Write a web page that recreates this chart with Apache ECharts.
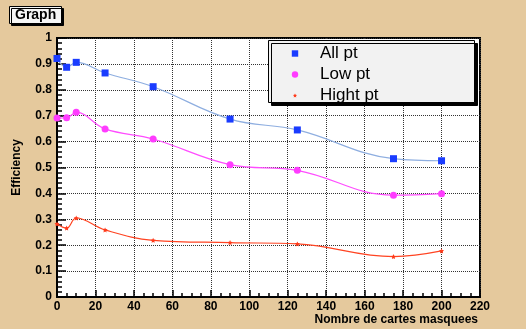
<!DOCTYPE html>
<html>
<head>
<meta charset="utf-8">
<script src="https://cdn.jsdelivr.net/npm/echarts@6/dist/echarts.min.js"></script>
<style>
  html, body { margin: 0; padding: 0; background: #e5c99d; }
  #chart { width: 526px; height: 329px; }
</style>
</head>
<body>
<div id="chart"></div>
<script>
// number of masked cards
const xValues = [0, 5, 10, 25, 50, 90, 125, 175, 200]
// efficiencies
const allPt = [0.921, 0.887, 0.906, 0.865, 0.812, 0.687, 0.645, 0.534, 0.526]
const lowPt = [0.691, 0.692, 0.713, 0.649, 0.610, 0.511, 0.489, 0.393, 0.399]
const highPt = [0.282, 0.266, 0.305, 0.259, 0.219, 0.210, 0.205, 0.156, 0.178]
const seriesNames = ['All pt', 'Low pt', 'Hight pt']

const star = 'path://M0,-10L2.9,-4L9.5,-3.1L4.8,1.5L5.9,8.1L0,5L-5.9,8.1L-4.8,1.5L-9.5,-3.1L-2.9,-4Z'
const font = '"Liberation Sans", Arial, sans-serif'

const pairs = (ys) => xValues.map((x, i) => [x, ys[i]])

const chart = echarts.init(document.getElementById('chart'))

const legendItem = (name, top, h) => ({
  data: [name],
  orient: 'vertical',
  left: 274,
  top: top,
  itemWidth: 40,
  itemHeight: h,
  padding: 0,
  lineStyle: { opacity: 0 },
  textStyle: { fontFamily: font, fontSize: 17, color: '#000' },
  selectedMode: false,
  z: 110,
})

const option = {
  backgroundColor: '#e5c99d',
  animation: false,
  title: {
    text: 'Graph',
    left: 9,
    top: 6,
    padding: [2, 6, 2, 6],
    backgroundColor: '#f6f6f6',
    borderColor: '#000',
    borderWidth: 1,
    shadowColor: '#000',
    shadowOffsetX: 2,
    shadowOffsetY: 2,
    textStyle: { fontFamily: font, fontSize: 14, fontWeight: 'bold', color: '#000' },
  },
  graphic: [{
    type: 'rect',
    left: 268,
    top: 40,
    shape: { width: 206, height: 62 },
    style: { fill: '#f2f2f2', stroke: '#000', lineWidth: 1, shadowColor: '#000', shadowOffsetX: 3, shadowOffsetY: 3 },
    z: 100,
  }],
  legend: [
    legendItem(seriesNames[0], 45, 8),
    legendItem(seriesNames[1], 66, 8),
    legendItem(seriesNames[2], 87, 5),
  ],
  grid: {
    left: 57,
    right: 46,
    top: 38,
    bottom: 32,
    show: true,
    backgroundColor: '#fff',
    borderColor: '#000',
    borderWidth: 2,
  },
  xAxis: {
    type: 'value',
    min: 0,
    max: 220,
    interval: 20,
    name: 'Nombre de cartes masquees',
    nameLocation: 'end',
    nameGap: -2,
    nameTextStyle: {
      fontFamily: font, fontSize: 12, fontWeight: 'bold', color: '#000',
      align: 'right', verticalAlign: 'top', padding: [17, 0, 0, 0],
    },
    axisLine: { lineStyle: { color: '#000', width: 2 } },
    axisTick: { show: true, inside: true, length: 7, lineStyle: { color: '#000', width: 1.5 } },
    minorTick: { show: true, splitNumber: 4, length: 4, lineStyle: { color: '#000', width: 1.5 } },
    axisLabel: { fontFamily: font, fontSize: 12, fontWeight: 'bold', color: '#000', margin: 4, showMaxLabel: true },
    splitLine: { show: true, lineStyle: { color: '#333', type: 'dotted', width: 1 } },
  },
  yAxis: {
    type: 'value',
    min: 0,
    max: 1,
    interval: 0.1,
    name: 'Efficiency',
    nameLocation: 'middle',
    nameGap: 34,
    nameTextStyle: { fontFamily: font, fontSize: 12, fontWeight: 'bold', color: '#000' },
    axisLine: { show: true, lineStyle: { color: '#000', width: 2 } },
    axisTick: { show: true, inside: true, length: 9, lineStyle: { color: '#000', width: 1.5 } },
    minorTick: { show: true, splitNumber: 5, length: 5, lineStyle: { color: '#000', width: 1.5 } },
    axisLabel: {
      fontFamily: font, fontSize: 12, fontWeight: 'bold', color: '#000', margin: 5,
      showMaxLabel: true, showMinLabel: true,
      formatter: (v) => String(+v.toFixed(1)),
    },
    splitLine: { show: true, lineStyle: { color: '#333', type: 'dotted', width: 1 } },
  },
  series: [
    {
      name: seriesNames[0],
      type: 'line',
      data: pairs(allPt),
      smooth: 0.4,
      symbol: 'rect',
      symbolSize: 7,
      itemStyle: { color: '#1a3cff' },
      lineStyle: { color: '#8eaee0', width: 1.2 },
    },
    {
      name: seriesNames[1],
      type: 'line',
      data: pairs(lowPt),
      smooth: 0.4,
      symbol: 'circle',
      symbolSize: 7,
      itemStyle: { color: '#ff3cff' },
      lineStyle: { color: '#ff4cff', width: 1.2 },
    },
    {
      name: seriesNames[2],
      type: 'line',
      data: pairs(highPt),
      smooth: 0.4,
      symbol: star,
      symbolSize: 5,
      itemStyle: { color: '#ff3a1a' },
      lineStyle: { color: '#ff4422', width: 1.2 },
    },
  ],
}

chart.setOption(option)
</script>
</body>
</html>
